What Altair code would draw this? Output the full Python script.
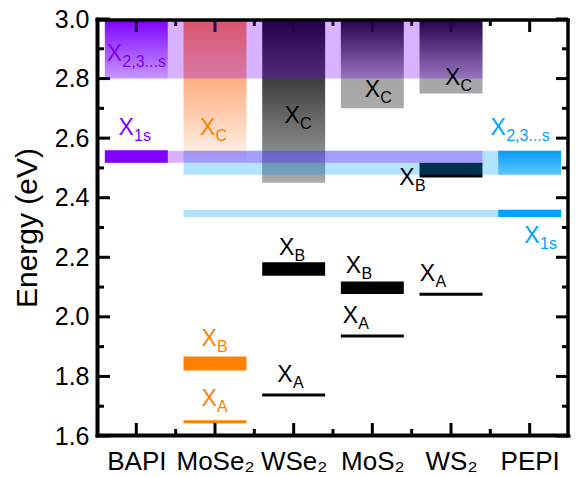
import altair as alt
import pandas as pd

FONT = "Liberation Sans"

# ---------------- data ----------------
categories = ["BAPI", "MoSe₂", "WSe₂", "MoS₂", "WS₂", "PEPI"]
positions = [1, 2, 3, 4, 5, 6]

# continuum (gradient) blocks
cont_cat = ["BAPI", "MoSe₂", "WSe₂", "MoS₂", "WS₂", "PEPI"]
cont_lo = [2.80, 2.52, 2.45, 2.70, 2.75, 2.477]
cont_hi = [3.00, 3.00, 3.00, 3.00, 3.00, 2.558]

# solid exciton levels
lvl_cat = ["BAPI", "MoSe₂", "MoSe₂", "WSe₂", "WSe₂", "MoS₂", "MoS₂", "WS₂", "WS₂", "PEPI"]
lvl_lo = [2.517, 1.820, 1.643, 2.138, 1.733, 2.077, 1.931, 2.468, 2.071, 2.335]
lvl_hi = [2.559, 1.867, 1.653, 2.183, 1.743, 2.119, 1.941, 2.517, 2.081, 2.360]
lvl_grp = ["purple", "orange", "orange", "black", "black", "black", "black", "black", "black", "blue"]

# translucent bands spanning several columns (blue first, purple on top)
band_start = ["MoSe₂", "MoSe₂", "BAPI", "BAPI"]
band_end = ["PEPI", "PEPI", "WS₂", "WS₂"]
band_lo = [2.477, 2.335, 2.800, 2.517]
band_hi = [2.558, 2.360, 3.000, 2.558]
band_grp = ["blue", "blue", "purple", "purple"]

# labels  X_sub
lab_sub = ["2,3...s", "1s", "C", "B", "A", "C", "B", "A", "C", "B", "A", "C", "B", "A", "2,3...s", "1s"]
lab_x = [0.72, 0.87, 1.906, 1.925, 1.925, 2.98, 2.91, 2.89, 4.00, 3.76, 3.72, 5.02, 4.44, 4.70, 5.60, 6.03]
lab_y = [2.881, 2.634, 2.634, 1.925, 1.724, 2.673, 2.232, 1.805, 2.763, 2.170, 2.004, 2.802, 2.467, 2.145, 2.635, 2.270]
lab_grp = ["purple", "purple", "orange", "orange", "orange", "black", "black", "black",
           "black", "black", "black", "black", "black", "black", "blue", "blue"]

# axis ticks
x_major = [1, 2, 3, 4, 5, 6]
x_minor = [1.5, 2.5, 3.5, 4.5, 5.5]
y_major = [1.6, 1.8, 2.0, 2.2, 2.4, 2.6, 2.8, 3.0]
y_minor = [1.7, 1.9, 2.1, 2.3, 2.5, 2.7, 2.9]
x_range = [0.5, 6.5]
y_range = [1.6, 3.0]

# ---------------- layout constants ----------------
W, H = 472, 417
MAJOR, MINOR = 13, 7
LINE = 3
EDGE = 1  # keep the top / right frame lines just inside the plot area
HALF = 0.4  # half column width

pos_of = dict(zip(categories, positions))

cont_df = pd.DataFrame({"cat": cont_cat, "lo": cont_lo, "hi": cont_hi})
cont_df["x0"] = cont_df["cat"].map(pos_of) - HALF
cont_df["x1"] = cont_df["cat"].map(pos_of) + HALF

lvl_df = pd.DataFrame({"cat": lvl_cat, "lo": lvl_lo, "hi": lvl_hi, "grp": lvl_grp})
lvl_df["x0"] = lvl_df["cat"].map(pos_of) - HALF
lvl_df["x1"] = lvl_df["cat"].map(pos_of) + HALF

band_df = pd.DataFrame({"start": band_start, "end": band_end, "lo": band_lo, "hi": band_hi, "grp": band_grp})
band_df["x0"] = band_df["start"].map(pos_of) - HALF
band_df["x1"] = band_df["end"].map(pos_of) + HALF

lab_df = pd.DataFrame({"sub": lab_sub, "x": lab_x, "y": lab_y, "grp": lab_grp})

one_row = pd.DataFrame({"k": [0]})

# ---------------- scales / axes ----------------
xs = alt.Scale(domain=x_range, nice=False, zero=False)
ys = alt.Scale(domain=y_range, nice=False, zero=False)
cs = alt.Scale(domain=["purple", "orange", "black", "blue"],
               range=["#8000FF", "#FF8000", "#000000", "#00A2FF"])

label_expr = "[" + ",".join("'%s'" % c for c in categories) + "][datum.value - 1]"

ax_x_labels = alt.Axis(orient="bottom", values=x_major, labelExpr=label_expr, ticks=False,
                       domain=False, grid=False, title=None, labelFont=FONT, labelFontSize=26,
                       labelPadding=12, labelColor="black")
ax_y_labels = alt.Axis(orient="left", values=y_major, format=".1f", ticks=False, domain=False,
                       grid=False, title="Energy (eV)", titleFont=FONT, titleFontSize=30,
                       titleFontWeight="normal", titleColor="black", titlePadding=12,
                       labelFont=FONT, labelFontSize=25, labelPadding=8, labelColor="black")

# ---------------- layers ----------------
grad_stops = {
    "BAPI": [(0, "#7A00FF"), (1, "#E6D8FF")],
    "MoSe₂": [(0, "#FF7A2E"), (1, "#FFF6F0")],
    "WSe₂": [(0, "#000000"), (1, "#ABABAB")],
    "MoS₂": [(0, "#000000"), (0.667, "#A6A6A6"), (1, "#A9A9A9")],
    "WS₂": [(0, "#000000"), (0.8, "#A6A6A6"), (1, "#A9A9A9")],
    "PEPI": [(0, "#0A9BF7"), (1, "#86D4FF")],
}

grad_layers = []
for cat in cont_cat:
    grad = alt.Gradient(gradient="linear", x1=0, x2=0, y1=0, y2=1,
                        stops=[alt.GradientStop(offset=o, color=c) for o, c in grad_stops[cat]])
    grad_layers.append(
        alt.Chart(cont_df).transform_filter(alt.datum.cat == cat).mark_rect(color=grad).encode(
            x=alt.X("x0:Q", scale=xs, axis=None),
            x2="x1:Q",
            y=alt.Y("lo:Q", scale=ys, axis=None),
            y2="hi:Q",
        )
    )

levels = alt.Chart(lvl_df).mark_rect().encode(
    x=alt.X("x0:Q", scale=xs, axis=ax_x_labels),
    x2="x1:Q",
    y=alt.Y("lo:Q", scale=ys, axis=ax_y_labels),
    y2="hi:Q",
    color=alt.Color("grp:N", scale=cs, legend=None),
)


def x_ticks(values, length, top):
    base = alt.Chart(pd.DataFrame({"v": values})).mark_rule(color="black", strokeWidth=LINE)
    if top:
        return base.encode(x=alt.X("v:Q", scale=xs, axis=None), y=alt.value(EDGE),
                           y2=alt.value(length))
    return base.encode(x=alt.X("v:Q", scale=xs, axis=None), y=alt.value(H), y2=alt.value(H - length))


def y_ticks(values, length, right):
    base = alt.Chart(pd.DataFrame({"v": values})).mark_rule(color="black", strokeWidth=LINE)
    if right:
        return base.encode(y=alt.Y("v:Q", scale=ys, axis=None), x=alt.value(W - EDGE),
                           x2=alt.value(W - length))
    return base.encode(y=alt.Y("v:Q", scale=ys, axis=None), x=alt.value(0), x2=alt.value(length))


tick_layers = [
    x_ticks(x_major, MAJOR, False), x_ticks(x_minor, MINOR, False),
    x_ticks(x_major, MAJOR, True), x_ticks(x_minor, MINOR, True),
    y_ticks(y_major, MAJOR, False), y_ticks(y_minor, MINOR, False),
    y_ticks(y_major, MAJOR, True), y_ticks(y_minor, MINOR, True),
]

bands = alt.Chart(band_df).mark_rect(opacity=0.3).encode(
    x=alt.X("x0:Q", scale=xs, axis=None),
    x2="x1:Q",
    y=alt.Y("lo:Q", scale=ys, axis=None),
    y2="hi:Q",
    color=alt.Color("grp:N", scale=cs, legend=None),
)

text_main = alt.Chart(lab_df).mark_text(text="X", font=FONT, fontSize=23, align="center",
                                        baseline="middle").encode(
    x=alt.X("x:Q", scale=xs, axis=None),
    y=alt.Y("y:Q", scale=ys, axis=None),
    color=alt.Color("grp:N", scale=cs, legend=None),
)

text_sub = alt.Chart(lab_df).mark_text(font=FONT, fontSize=16, align="left", baseline="middle",
                                       dx=8, dy=8).encode(
    x=alt.X("x:Q", scale=xs, axis=None),
    y=alt.Y("y:Q", scale=ys, axis=None),
    text="sub:N",
    color=alt.Color("grp:N", scale=cs, legend=None),
)

# plot frame: an outlined rectangle plus the four edge lines
frame_box = alt.Chart(one_row).mark_rect(fillOpacity=0, stroke="black", strokeWidth=LINE).encode(
    x=alt.value(EDGE), x2=alt.value(W - EDGE), y=alt.value(EDGE), y2=alt.value(H - EDGE)
)
frame_rule = alt.Chart(one_row).mark_rule(color="black", strokeWidth=LINE, strokeCap="square")
frame_layers = [
    frame_rule.encode(x=alt.value(0), y=alt.value(0), y2=alt.value(H)),
    frame_rule.encode(x=alt.value(W - EDGE), y=alt.value(EDGE), y2=alt.value(H)),
    frame_rule.encode(y=alt.value(EDGE), x=alt.value(0), x2=alt.value(W - EDGE)),
    frame_rule.encode(y=alt.value(H), x=alt.value(0), x2=alt.value(W)),
]

chart = alt.layer(*grad_layers, levels, *tick_layers, bands, text_main, text_sub,
                  frame_box, *frame_layers).resolve_axis(
    x="independent", y="independent"
).properties(
    width=W,
    height=H,
    autosize="none",
    padding={"left": 89, "top": 11, "right": 2, "bottom": 38},
).configure(
    font=FONT,
    background="white",
    view=alt.ViewConfig(stroke=None),
)

chart.save("out.html", embed_options={"renderer": "svg", "actions": False})
